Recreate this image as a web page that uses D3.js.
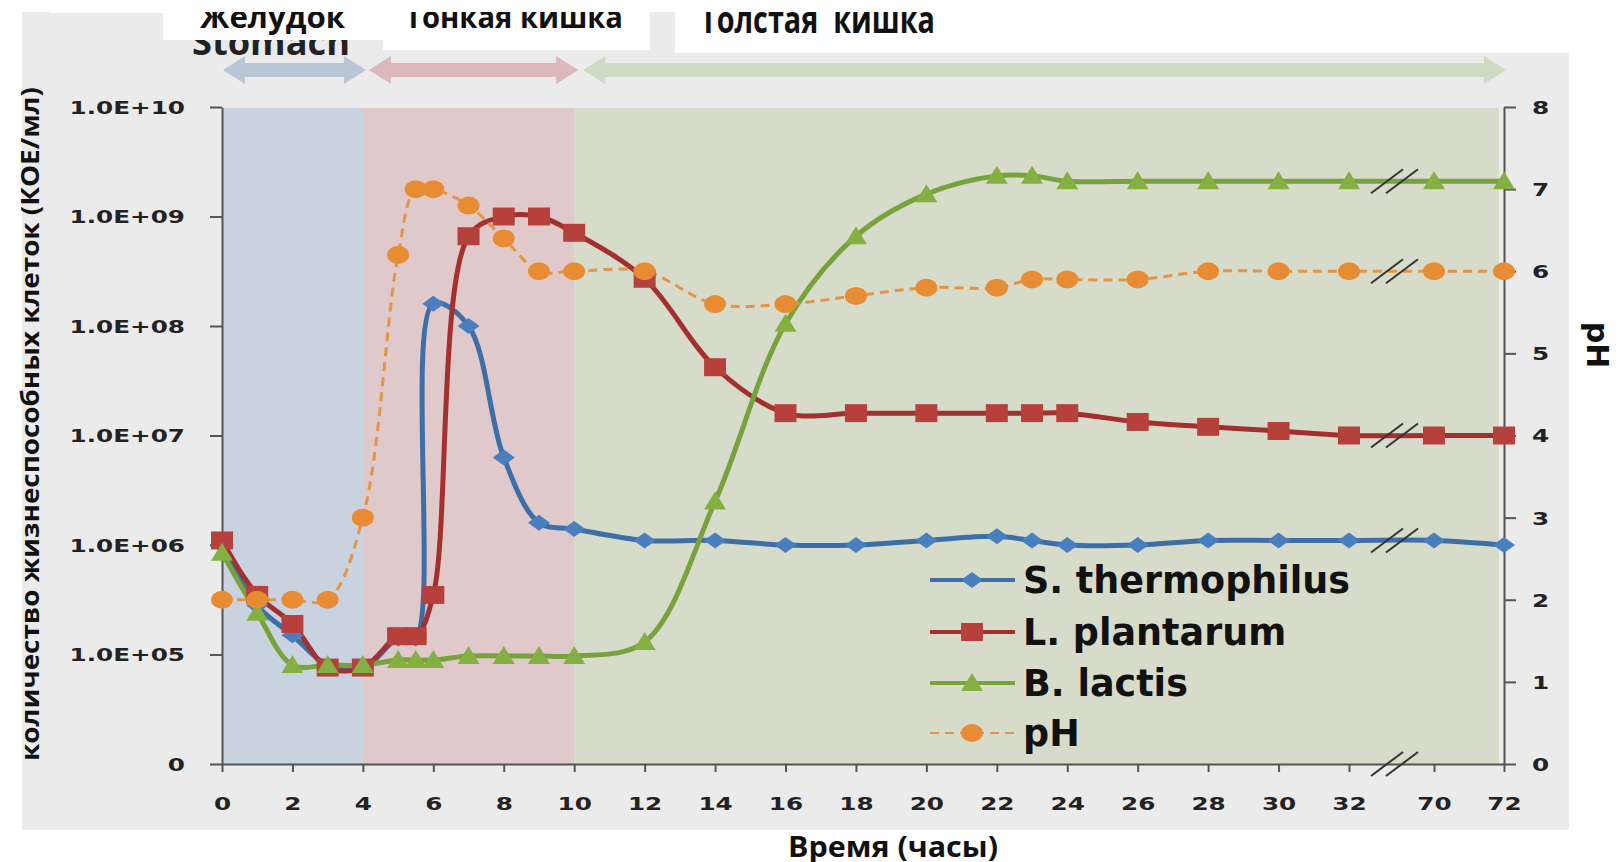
<!DOCTYPE html>
<html>
<head>
<meta charset="utf-8">
<script src="https://cdn.jsdelivr.net/npm/d3@7/dist/d3.min.js"></script>
<style>
  html, body { margin: 0; padding: 0; background: #ffffff; }
  svg { display: block; }
</style>
</head>
<body>
<svg id="chart" width="1619" height="862"></svg>
<script>
// ---------------- DATA ----------------
const hours = [0, 1, 2, 3, 4, 5, 5.5, 6, 7, 8, 9, 10, 12, 14, 16, 18, 20, 22, 23, 24, 26, 28, 30, 32, 70, 72];
const stThermophilus = [1.0e6, 2.8e5, 1.5e5, 8.0e4, 7.5e4, 1.4e5, 1.4e5, 1.6e8, 1.0e8, 6.3e6, 1.6e6, 1.4e6, 1.1e6, 1.1e6, 1.0e6, 1.0e6, 1.1e6, 1.2e6, 1.1e6, 1.0e6, 1.0e6, 1.1e6, 1.1e6, 1.1e6, 1.1e6, 1.0e6];
const lPlantarum = [1.1e6, 3.5e5, 1.9e5, 7.6e4, 7.6e4, 1.47e5, 1.47e5, 3.5e5, 6.6e8, 1.0e9, 1.0e9, 7.1e8, 2.7e8, 4.2e7, 1.6e7, 1.6e7, 1.6e7, 1.6e7, 1.6e7, 1.6e7, 1.33e7, 1.2e7, 1.1e7, 1.0e7, 1.0e7, 1.0e7];
const bLactis = [8.5e5, 2.4e5, 8.0e4, 8.0e4, 8.0e4, 8.9e4, 8.9e4, 8.9e4, 9.7e4, 9.7e4, 9.7e4, 9.7e4, 1.3e5, 2.5e6, 1.05e8, 6.6e8, 1.6e9, 2.35e9, 2.35e9, 2.1e9, 2.1e9, 2.1e9, 2.1e9, 2.1e9, 2.1e9, 2.1e9];
const phValues = [2.0, 2.0, 2.0, 2.0, 3.0, 6.2, 7.0, 7.0, 6.8, 6.4, 6.0, 6.0, 6.0, 5.6, 5.6, 5.7, 5.8, 5.8, 5.9, 5.9, 5.9, 6.0, 6.0, 6.0, 6.0, 6.0];

const xTickValues = [0, 2, 4, 6, 8, 10, 12, 14, 16, 18, 20, 22, 24, 26, 28, 30, 32, 70, 72];
const leftTickValues = [1e4, 1e5, 1e6, 1e7, 1e8, 1e9, 1e10];
const leftTickLabels = ["0", "1.0E+05", "1.0E+06", "1.0E+07", "1.0E+08", "1.0E+09", "1.0E+10"];
const rightTickValues = [0, 1, 2, 3, 4, 5, 6, 7, 8];
const seriesNames = ["S. thermophilus", "L. plantarum", "B. lactis", "pH"];
const regionNames = ["Желудок", "Тонкая кишка", "Толстая  кишка"];
const regionSubtitle = "Stomach";
const regionBounds = [[0, 4], [4, 10], [10, 72]];
const breakFrom = 32, breakTo = 70;
const xTitle = "Время (часы)";
const yLeftTitle = "количество жизнеспособных клеток (КОЕ/мл)";
const yRightTitle = "pH";

// ---------------- LAYOUT ----------------
const svg = d3.select("#chart");
const L = 222, R = 1504, T = 107, B = 764;

const x = d3.scaleLinear().domain([0, 32, 70, 72]).range([L, 1349, 1434, R]);
const yL = d3.scaleLog().domain([1e4, 1e10]).range([B, T]);
const yR = d3.scaleLinear().domain([0, 8]).range([B, T]);

// background panel
svg.append("rect").attr("x", 22).attr("y", 10).attr("width", 1547).attr("height", 820).attr("fill", "#ebebeb");

// region bands
const bandColors = ["#c9d3df", "#dfc9ca", "#d7dcca"];
regionBounds.forEach((b, i) => {
  const x0 = x(b[0]);
  const x1 = i === regionBounds.length - 1 ? x(b[1]) - 5 : x(b[1]);
  svg.append("rect").attr("x", x0).attr("y", T + 1).attr("width", x1 - x0).attr("height", B - T - 1)
    .attr("fill", bandColors[i]);
});

// arrows
const arrowColors = ["#b8c6d6", "#dcb8bb", "#cddbc3"];
const arrowOffsets = [[1, 3], [6, 4], [9, 2]];
function arrowPath(x1, x2, cy, hl, hh, sh) {
  return `M${x1},${cy} L${x1 + hl},${cy - hh} L${x1 + hl},${cy - sh} L${x2 - hl},${cy - sh} L${x2 - hl},${cy - hh} L${x2},${cy} L${x2 - hl},${cy + hh} L${x2 - hl},${cy + sh} L${x1 + hl},${cy + sh} L${x1 + hl},${cy + hh} Z`;
}
regionBounds.forEach((b, i) => {
  svg.append("path")
    .attr("d", arrowPath(x(b[0]) + arrowOffsets[i][0], x(b[1]) + arrowOffsets[i][1], 70, 22, 14, 7))
    .attr("fill", arrowColors[i]);
});

// "Stomach" subtitle (partly covered by box)
svg.append("text").text(regionSubtitle)
  .attr("x", 192).attr("y", 55).attr("textLength", 158).attr("lengthAdjust", "spacingAndGlyphs")
  .attr("font-family", "Open Sans").attr("font-weight", "bold").attr("font-size", 36).attr("fill", "#222");

// white header boxes
svg.append("rect").attr("x", 50).attr("y", 0).attr("width", 113).attr("height", 13).attr("fill", "#fff");
svg.append("rect").attr("x", 163).attr("y", 0).attr("width", 220).attr("height", 40).attr("fill", "#fff");
svg.append("rect").attr("x", 383).attr("y", 0).attr("width", 267).attr("height", 50).attr("fill", "#fff");
svg.append("rect").attr("x", 675).attr("y", 0).attr("width", 944).attr("height", 53).attr("fill", "#fff");

// header texts
const headerSpecs = [
  { x: 200, y: 28, len: 145, size: 30 },
  { x: 405, y: 28, len: 218, size: 30 },
  { x: 700, y: 33, len: 235, size: 37 }
];
regionNames.forEach((n, i) => {
  const s = headerSpecs[i];
  svg.append("text").text(n)
    .attr("x", s.x).attr("y", s.y).attr("textLength", s.len).attr("lengthAdjust", "spacingAndGlyphs")
    .style("white-space", "pre")
    .attr("font-family", "Open Sans").attr("font-weight", "bold").attr("font-size", s.size).attr("fill", "#111");
});
// top clipping strip
svg.append("rect").attr("x", 0).attr("y", 0).attr("width", 1619).attr("height", 12).attr("fill", "#fff");

// ---------------- AXES ----------------
const SX = 1.37;
const tickFont = "DejaVu Sans";
const axisColor = "#555";

const gLeft = svg.append("g").attr("transform", `translate(${L},0)`)
  .call(d3.axisLeft(yL).tickValues(leftTickValues).tickFormat((d, i) => leftTickLabels[i]).tickSize(12).tickSizeOuter(0));
const gRight = svg.append("g").attr("transform", `translate(${R},0)`)
  .call(d3.axisRight(yR).tickValues(rightTickValues).tickFormat(d3.format("d")).tickSize(12).tickSizeOuter(0));
const gBottom = svg.append("g").attr("transform", `translate(0,${B})`)
  .call(d3.axisBottom(x).tickValues(xTickValues).tickFormat(d3.format("d")).tickSize(8).tickSizeOuter(0));

[gLeft, gRight, gBottom].forEach(g => {
  g.select(".domain").attr("stroke", axisColor).attr("stroke-width", 2);
  g.selectAll(".tick line").attr("stroke", axisColor).attr("stroke-width", 2);
  g.selectAll(".tick text").attr("font-family", tickFont).attr("font-weight", "bold")
    .attr("font-size", 18).attr("fill", "#222");
});
gLeft.selectAll(".tick text").attr("x", -37 / SX).attr("dy", "0.36em").attr("transform", `scale(${SX},1)`);
gRight.selectAll(".tick text").attr("x", 28 / SX).attr("dy", "0.36em").attr("transform", `scale(${SX},1)`);
gBottom.selectAll(".tick text").attr("y", 40).attr("dy", "0.36em").attr("transform", `scale(${SX},1)`);

// axis titles
svg.append("text").text(yLeftTitle)
  .attr("transform", "translate(29,424) rotate(-90)")
  .attr("text-anchor", "middle").attr("dominant-baseline", "central")
  .attr("textLength", 674).attr("lengthAdjust", "spacingAndGlyphs")
  .attr("font-family", "Open Sans").attr("font-weight", "bold").attr("font-size", 25).attr("fill", "#111");
svg.append("text").text(yRightTitle)
  .attr("transform", "translate(1597,345) rotate(90)")
  .attr("text-anchor", "middle").attr("dominant-baseline", "central")
  .attr("font-family", "DejaVu Sans").attr("font-weight", "bold").attr("font-size", 30).attr("fill", "#111");
svg.append("text").text(xTitle)
  .attr("x", 893).attr("y", 846).attr("text-anchor", "middle").attr("dominant-baseline", "central")
  .attr("textLength", 210).attr("lengthAdjust", "spacingAndGlyphs")
  .attr("font-family", "Open Sans").attr("font-weight", "bold").attr("font-size", 28).attr("fill", "#111");

// ---------------- SERIES ----------------
const series = [
  { name: seriesNames[0], values: stThermophilus, y: yL, line: "#3d6ea6", fill: "#4a7fbf", marker: "diamond", width: 5, dash: null },
  { name: seriesNames[1], values: lPlantarum, y: yL, line: "#a3302f", fill: "#b6403b", marker: "square", width: 5, dash: null },
  { name: seriesNames[2], values: bLactis, y: yL, line: "#78a23c", fill: "#84b042", marker: "triangle", width: 5, dash: null },
  { name: seriesNames[3], values: phValues, y: yR, line: "#e39448", fill: "#e88c33", marker: "circle", width: 3, dash: "9,6" }
];

function markerPath(type) {
  switch (type) {
    case "diamond": return "M-11,0 L0,-8 L11,0 L0,8 Z";
    case "square": return "M-11,-9 L11,-9 L11,9 L-11,9 Z";
    case "triangle": return "M-11,8 L0,-10 L11,8 Z";
    case "circle": return "M-11,0 A11,9 0 1,0 11,0 A11,9 0 1,0 -11,0 Z";
  }
}

const lineGen = (s) => d3.line()
  .x((d, i) => x(hours[i]))
  .y(d => s.y(d))
  .curve(d3.curveCatmullRom.alpha(0.5));

series.forEach(s => {
  svg.append("path").datum(s.values)
    .attr("d", lineGen(s))
    .attr("fill", "none").attr("stroke", s.line).attr("stroke-width", s.width)
    .attr("stroke-linejoin", "round")
    .attr("stroke-dasharray", s.dash);
});
series.forEach(s => {
  svg.append("g").selectAll("path").data(s.values).join("path")
    .attr("d", markerPath(s.marker))
    .attr("transform", (d, i) => `translate(${x(hours[i])},${s.y(d)})`)
    .attr("fill", s.fill);
});

// break marks
function breakMark(cx, cy) {
  [-7.5, 7.5].forEach(o => {
    svg.append("line")
      .attr("x1", cx + o - 16).attr("y1", cy + 12).attr("x2", cx + o + 16).attr("y2", cy - 12)
      .attr("stroke", "#333").attr("stroke-width", 2);
  });
}
const breakIdx = hours.indexOf(breakFrom);
const breakX = (x(breakFrom) + x(breakTo)) / 2 + 3;
breakMark(breakX, B);
series.forEach(s => breakMark(breakX, s.y(s.values[breakIdx])));

// ---------------- LEGEND ----------------
const legendRows = [580, 632, 683, 733];
series.forEach((s, i) => {
  const g = svg.append("g").attr("transform", `translate(0,${legendRows[i]})`);
  g.append("line").attr("x1", 930).attr("x2", 1015).attr("y1", 0).attr("y2", 0)
    .attr("stroke", s.line).attr("stroke-width", s.width - 1).attr("stroke-dasharray", s.dash);
  g.append("path").attr("d", markerPath(s.marker)).attr("transform", "translate(972,0)").attr("fill", s.fill);
  g.append("text").text(s.name).attr("x", 1023).attr("y", 0).attr("dominant-baseline", "central")
    .attr("font-family", "DejaVu Sans").attr("font-weight", "bold").attr("font-size", 36.5).attr("fill", "#111");
});
</script>
</body>
</html>
